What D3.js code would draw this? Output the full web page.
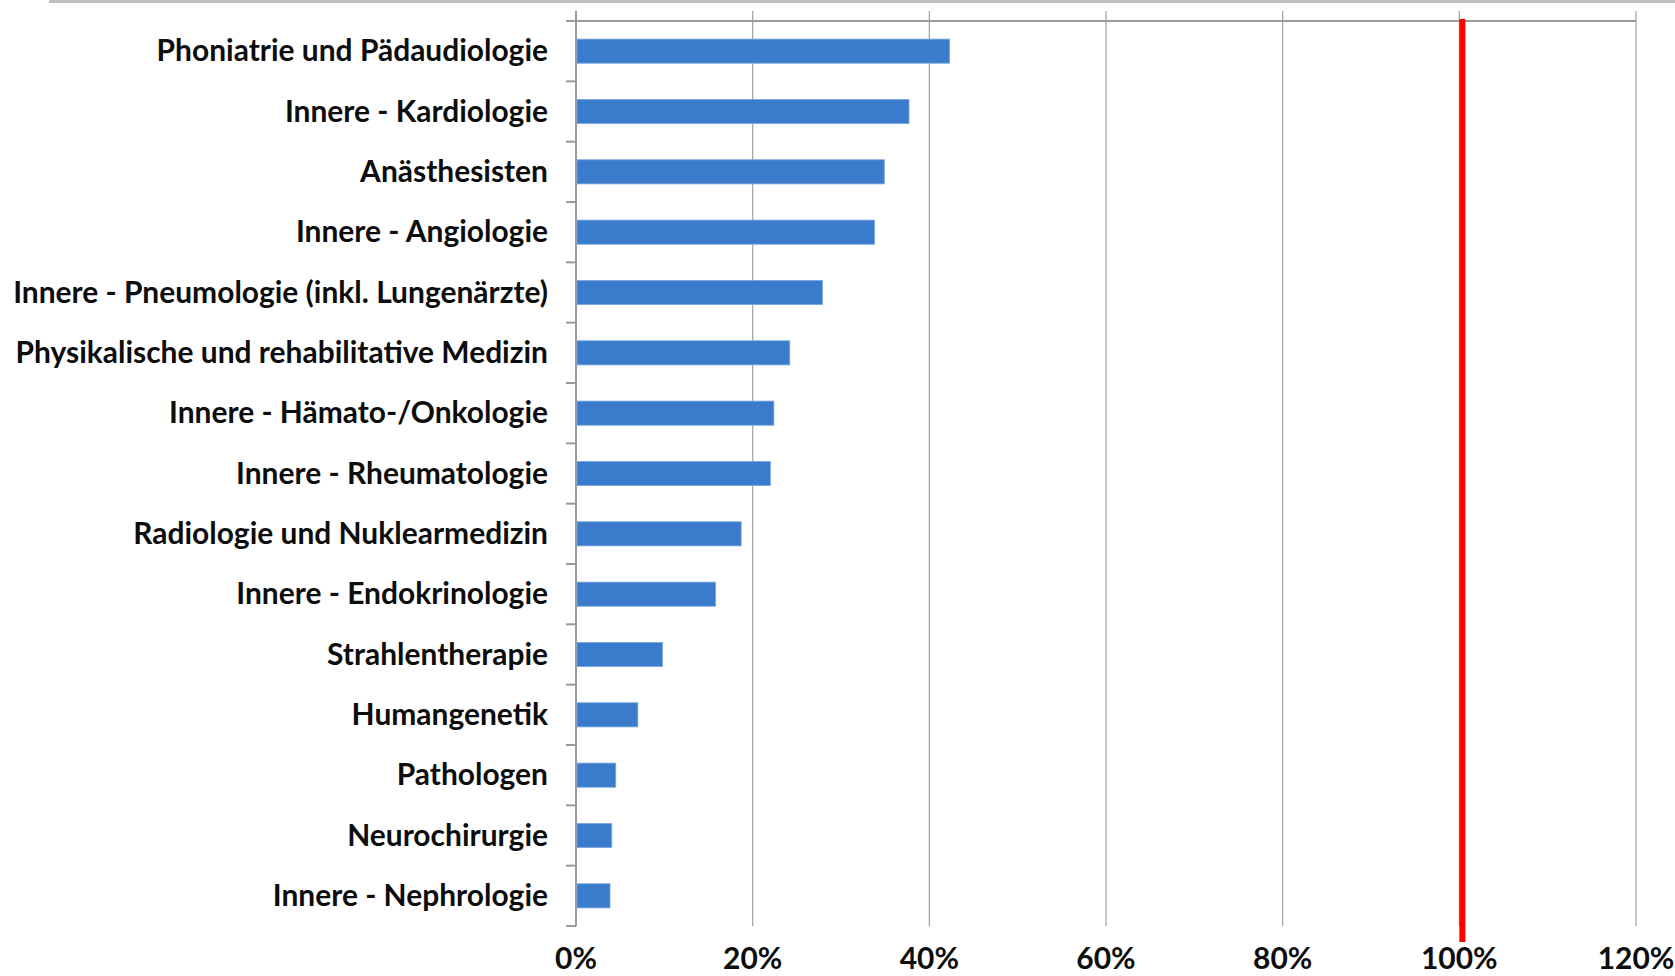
<!DOCTYPE html>
<html>
<head>
<meta charset="utf-8">
<script src="https://cdn.jsdelivr.net/npm/d3@7"></script>
<style>
  html, body { margin: 0; padding: 0; background: #fff; }
  svg { display: block; }
  text { font-family: Lato, "Open Sans", sans-serif; font-weight: 700; fill: #0d0d0d; }
</style>
</head>
<body>
<svg id="chart" width="1675" height="976"></svg>
<script>
// categories, top to bottom
const categories = [
  "Phoniatrie und Pädaudiologie",
  "Innere - Kardiologie",
  "Anästhesisten",
  "Innere - Angiologie",
  "Innere - Pneumologie (inkl. Lungenärzte)",
  "Physikalische und rehabilitative Medizin",
  "Innere - Hämato-/Onkologie",
  "Innere - Rheumatologie",
  "Radiologie und Nuklearmedizin",
  "Innere - Endokrinologie",
  "Strahlentherapie",
  "Humangenetik",
  "Pathologen",
  "Neurochirurgie",
  "Innere - Nephrologie"
];
// percent values
const values = [42.3, 37.7, 34.9, 33.8, 27.9, 24.2, 22.4, 22.0, 18.7, 15.8, 9.8, 7.0, 4.5, 4.05, 3.85];
const xTicks = [0, 20, 40, 60, 80, 100, 120];
const targetLine = [100]; // red reference line

const width = 1675;
const plot = { left: 576, right: 1636, top: 21, bottom: 926 };

const svg = d3.select("#chart");

const x = d3.scaleLinear().domain([0, 120]).range([plot.left, plot.right]);
const y = d3
  .scaleBand()
  .domain(categories)
  .range([plot.top, plot.bottom])
  .paddingInner(0.6)
  .paddingOuter(0.3);

// thin grey line across the very top of the picture
svg
  .append("line")
  .attr("x1", 49)
  .attr("x2", width)
  .attr("y1", 1.5)
  .attr("y2", 1.5)
  .attr("stroke", "#bfbfbf")
  .attr("stroke-width", 3);

// vertical gridlines (they also stick up as tick marks above the top axis)
svg
  .append("g")
  .selectAll("line")
  .data(xTicks)
  .join("line")
  .attr("x1", d => x(d))
  .attr("x2", d => x(d))
  .attr("y1", plot.top - 10)
  .attr("y2", plot.bottom)
  .attr("stroke", d => (d === 0 ? "#9a9a9a" : "#a8a8a8"))
  .attr("stroke-width", d => (d === 0 ? 2 : 1.3));

// value axis line at top
svg
  .append("line")
  .attr("x1", plot.left - 10)
  .attr("x2", plot.right)
  .attr("y1", plot.top)
  .attr("y2", plot.top)
  .attr("stroke", "#9a9a9a")
  .attr("stroke-width", 2);

// category tick marks on the band boundaries
const step = y.step();
const boundaries = d3.range(categories.length + 1).map(i => plot.top + i * step);
svg
  .append("g")
  .selectAll("line")
  .data(boundaries)
  .join("line")
  .attr("x1", plot.left - 10)
  .attr("x2", plot.left)
  .attr("y1", d => d)
  .attr("y2", d => d)
  .attr("stroke", "#9a9a9a")
  .attr("stroke-width", 2);

// bars
svg
  .append("g")
  .selectAll("rect")
  .data(categories)
  .join("rect")
  .attr("x", x(0) + 1)
  .attr("y", d => y(d))
  .attr("width", (d, i) => x(values[i]) - x(0) - 1)
  .attr("height", y.bandwidth())
  .attr("fill", "#3a7ccb")
  .attr("stroke", "#7aa7e0")
  .attr("stroke-width", 0.8);

// red 100% line
svg
  .append("g")
  .selectAll("line")
  .data(targetLine)
  .join("line")
  .attr("x1", d => x(d) + 3)
  .attr("x2", d => x(d) + 3)
  .attr("y1", plot.top - 2)
  .attr("y2", plot.bottom + 16)
  .attr("stroke", "#ff0000")
  .attr("stroke-width", 6);

// category labels
const labels = svg
  .append("g")
  .selectAll("text")
  .data(categories)
  .join("text")
  .attr("text-anchor", "end")
  .style("font-size", "30px")
  .text(d => d);

// squeeze labels horizontally so the longest one fits like the original
const longest = d3.max(labels.nodes(), n => n.getComputedTextLength());
const sx = 535 / longest;
labels.attr(
  "transform",
  d => `translate(${plot.left - 28}, ${y(d) + y.bandwidth() / 2 + 10}) scale(${sx}, 1)`
);

// value tick labels along the bottom
svg
  .append("g")
  .selectAll("text")
  .data(xTicks)
  .join("text")
  .attr("text-anchor", "middle")
  .attr("transform", d => `translate(${x(d)}, 969) scale(${sx}, 1)`)
  .style("font-size", "30px")
  .text(d => `${d}%`);
</script>
</body>
</html>
